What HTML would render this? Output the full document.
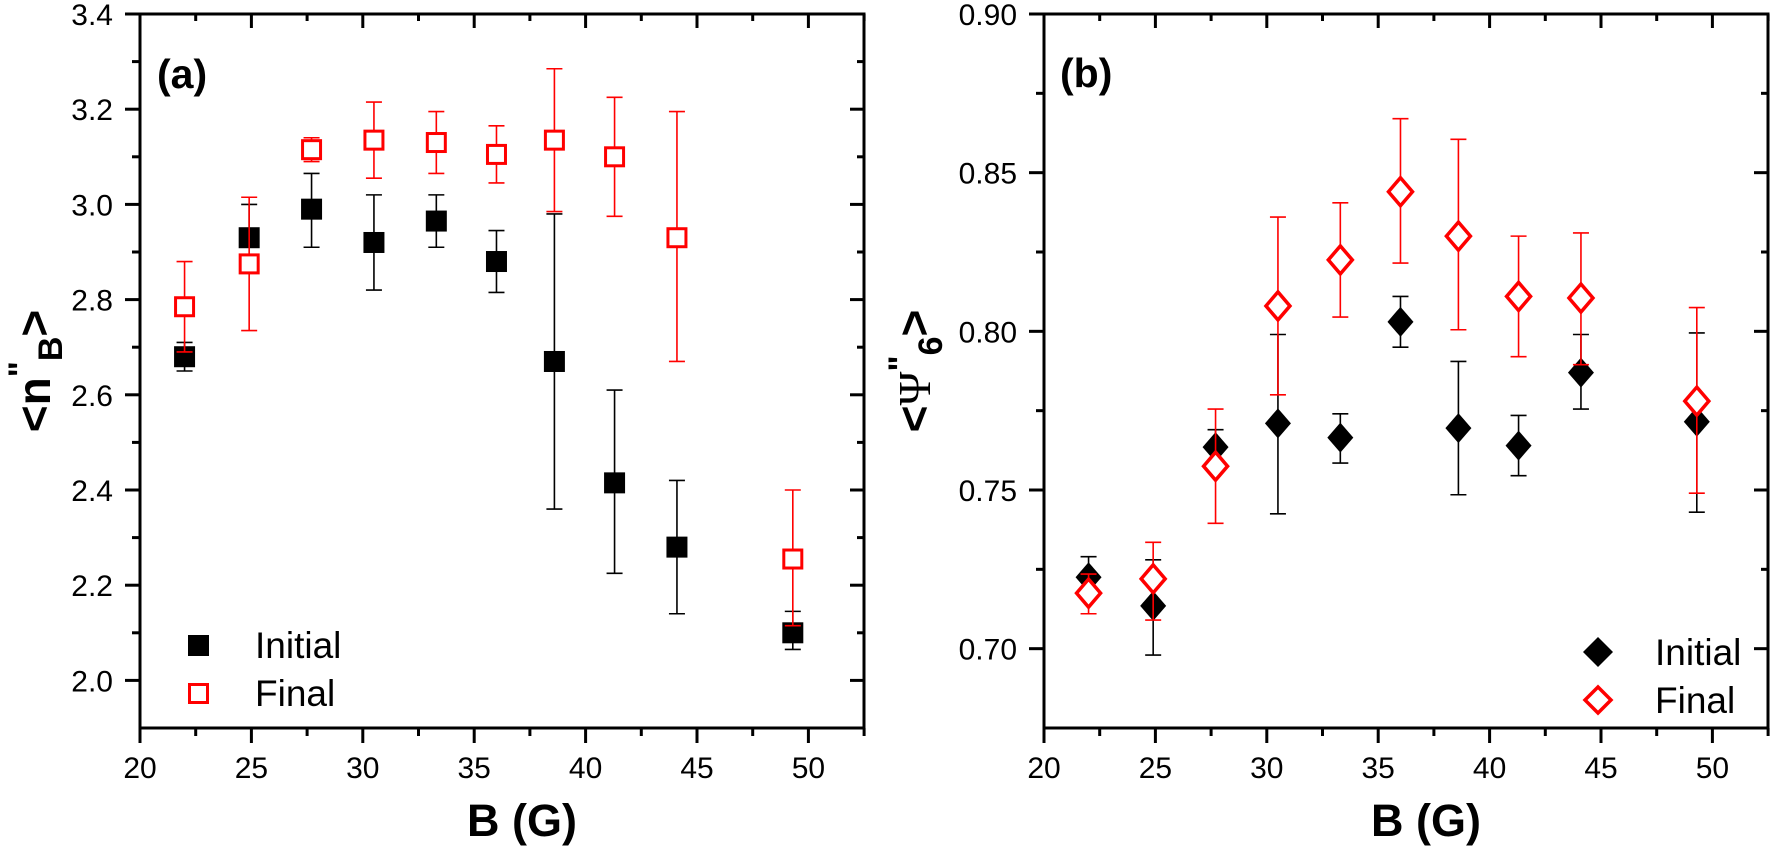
<!DOCTYPE html>
<html><head><meta charset="utf-8"><style>
html,body{margin:0;padding:0;background:#fff;}
svg{display:block;font-family:"Liberation Sans",Arial,sans-serif;}
</style></head><body>
<svg id="s" width="1770" height="851" viewBox="0 0 1770 851" xmlns="http://www.w3.org/2000/svg">
<text x="157" y="88" font-size="41" font-weight="bold">(a)</text>
<text x="1060" y="87" font-size="41" font-weight="bold">(b)</text>
<text x="522" y="836" font-size="45" font-weight="bold" text-anchor="middle">B (G)</text>
<text x="1426" y="836" font-size="45" font-weight="bold" text-anchor="middle">B (G)</text>
<g transform="translate(50,371) rotate(-90)">
<text x="0" y="0" font-size="46" font-weight="bold" text-anchor="middle">&lt;n<tspan dy="-18" font-size="34">"</tspan><tspan dy="30" font-size="34">B</tspan><tspan dy="-12">&gt;</tspan></text>
</g>
<g transform="translate(930,371) rotate(-90)">
<text x="0" y="0" font-size="46" text-anchor="middle"><tspan font-weight="bold">&lt;</tspan><tspan font-family="Liberation Serif,serif">Ψ</tspan><tspan dy="-18" font-size="34" font-weight="bold">"</tspan><tspan dy="30" font-size="34" font-weight="bold">6</tspan><tspan dy="-12" font-weight="bold">&gt;</tspan></text>
</g>
<g id="g"></g>
<rect x="188" y="635" width="21" height="21" fill="#000"/>
<rect x="189.5" y="684.5" width="18" height="18" fill="none" stroke="#f00" stroke-width="3"/>
<text x="255" y="658" font-size="37">Initial</text>
<text x="255" y="706" font-size="37">Final</text>
<path d="M1598 637 L1613 652 L1598 667 L1583 652Z" fill="#000"/>
<path d="M1598 687 L1611 700 L1598 713 L1585 700Z" fill="none" stroke="#f00" stroke-width="3.5"/>
<text x="1655" y="665" font-size="37">Initial</text>
<text x="1655" y="713" font-size="37">Final</text>
</svg>
<script>
var g=document.getElementById('g'),h='';
function L(x1,y1,x2,y2,c,w){h+='<line x1="'+x1+'" y1="'+y1+'" x2="'+x2+'" y2="'+y2+'" stroke="'+c+'" stroke-width="'+w+'"/>';}
function T(x,y,t,a){h+='<text x="'+x+'" y="'+y+'" font-size="30" text-anchor="'+a+'">'+t+'</text>';}
function panel(L0,y0,y1,v0,v1,ymaj,ymin,dec,IN,FI,shape){
  var R=L0+724,T0=14,B=728;
  var X=function(b){return L0+(b-20)*22.28;};
  var Y=function(v){return T0+(v1-v)/(v1-v0)*(B-T0);};
  // frame
  h+='<rect x="'+L0+'" y="'+T0+'" width="724" height="714" fill="none" stroke="#000" stroke-width="3"/>';
  for(var b=20;b<=52.5;b+=2.5){var m=(b%5==0);var x=X(b);
    L(x,B,x,B+(m?15:8),'#000',3);L(x,T0,x,T0+(m?14:7),'#000',3);
    if(m&&b<=50)T(x,778,b,'middle');}
  var n=Math.round((v1-ymin)/ymin*0)+0;
  for(var v=y0;v<=v1+1e-9;v+=ymin){var k=Math.round((v-y0)/ymin);var m=(Math.abs((v/ymaj)-Math.round(v/ymaj))<1e-6);var y=Y(v);
    L(L0-(m?15:8),y,L0,y,'#000',3);L(R-(m?14:7),y,R,y,'#000',3);
    if(m)T(L0-27,y+11,v.toFixed(dec),'end');}
  function draw(d,col,fill){d.forEach(function(p){var x=X(p[0]);
    L(x,Y(p[2]),x,Y(p[3]),col,1.6);L(x-8,Y(p[2]),x+8,Y(p[2]),col,1.6);L(x-8,Y(p[3]),x+8,Y(p[3]),col,1.6);});
    d.forEach(function(p){var x=X(p[0]),y=Y(p[1]);
    if(shape=='s'){ if(fill)h+='<rect x="'+(x-10.5)+'" y="'+(y-10.5)+'" width="21" height="21" fill="#000"/>';
      else h+='<rect x="'+(x-9)+'" y="'+(y-9)+'" width="18" height="18" fill="#fff" stroke="#f00" stroke-width="3"/>';}
    else{ if(fill)h+='<path d="M'+x+' '+(y-15)+' L'+(x+13)+' '+y+' L'+x+' '+(y+15)+' L'+(x-13)+' '+y+'Z" fill="#000"/>';
      else h+='<path d="M'+x+' '+(y-14)+' L'+(x+12)+' '+y+' L'+x+' '+(y+14)+' L'+(x-12)+' '+y+'Z" fill="#fff" stroke="#f00" stroke-width="3.5"/>';}
  });}
  draw(IN,'#000',true);draw(FI,'#f00',false);
}
panel(140,2.0,1.9,1.9,3.4,0.2,0.1,1,
 [[22,2.68,2.65,2.71],[24.9,2.93,2.915,3.0],[27.7,2.99,2.91,3.065],[30.5,2.92,2.82,3.02],[33.3,2.965,2.91,3.02],[36,2.88,2.815,2.945],[38.6,2.67,2.36,2.98],[41.3,2.415,2.225,2.61],[44.1,2.28,2.14,2.42],[49.3,2.10,2.065,2.145]],
 [[22,2.785,2.69,2.88],[24.9,2.875,2.735,3.015],[27.7,3.115,3.09,3.14],[30.5,3.135,3.055,3.215],[33.3,3.13,3.065,3.195],[36,3.105,3.045,3.165],[38.6,3.135,2.985,3.285],[41.3,3.10,2.975,3.225],[44.1,2.93,2.67,3.195],[49.3,2.255,2.115,2.40]],'s');
panel(1044,0.7,0.675,0.675,0.90,0.05,0.025,2,
 [[22,0.7225,0.718,0.729],[24.9,0.7135,0.698,0.728],[27.7,0.7635,0.758,0.769],[30.5,0.771,0.7425,0.799],[33.3,0.7665,0.7585,0.774],[36,0.803,0.795,0.811],[38.6,0.7695,0.7485,0.7905],[41.3,0.764,0.7545,0.7735],[44.1,0.787,0.7755,0.799],[49.3,0.7715,0.743,0.7995]],
 [[22,0.7175,0.711,0.7235],[24.9,0.722,0.709,0.7335],[27.7,0.7575,0.7395,0.7755],[30.5,0.808,0.78,0.836],[33.3,0.8225,0.8045,0.8405],[36,0.844,0.8215,0.867],[38.6,0.83,0.8005,0.8605],[41.3,0.811,0.792,0.83],[44.1,0.8105,0.7895,0.831],[49.3,0.778,0.749,0.8075]],'d');
g.innerHTML=h;
</script>
</body></html>
